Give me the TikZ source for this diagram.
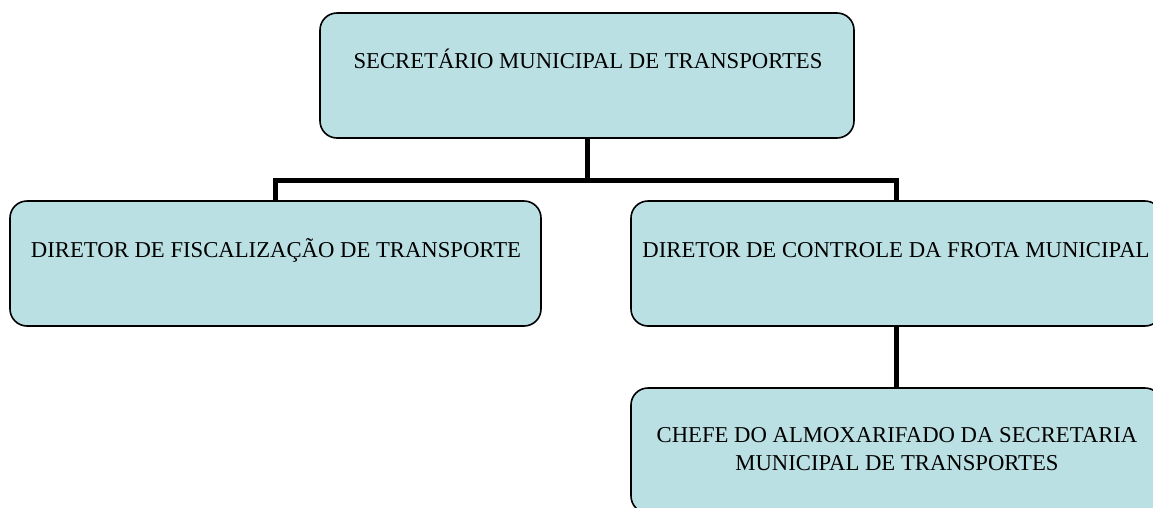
\documentclass[tikz,border=0pt]{standalone}
\usepackage{fontspec}
\setmainfont{Liberation Serif}
\definecolor{boxfill}{RGB}{187,224,227}
\tikzset{
  orgbox/.style={draw=black, line width=1.6pt, fill=boxfill, rounded corners=17pt,
    minimum width=#1, minimum height=125pt, inner sep=0pt, outer sep=0pt},
  orgbox/.default=531pt,
  lbl/.style={anchor=base, font=\fontsize{22.7}{28}\selectfont, inner sep=0pt, align=center},
  conn/.style={draw=black, line width=5pt, line join=miter}
}
\begin{document}
\begin{tikzpicture}[x=1pt, y=-1pt]
\useasboundingbox (0,0) rectangle (1153,507);
% boxes
\node[orgbox=534pt] (top) at (587,75.5) {};
\node[orgbox] (left) at (275.5,263.5) {};
\node[orgbox] (right) at (896.5,263.5) {};
\node[orgbox] (chefe) at (896.5,450.5) {};
% labels
\node[lbl] (ttop) at (588,68) {SECRETÁRIO MUNICIPAL DE TRANSPORTES};
\node[lbl] (tleft) at (276,257) {DIRETOR DE FISCALIZAÇÃO DE TRANSPORTE};
\node[lbl] (tright) at (896,257) {DIRETOR DE CONTROLE DA FROTA MUNICIPAL};
\node[lbl] (tchefe) at (897,470) {CHEFE DO ALMOXARIFADO DA SECRETARIA\\MUNICIPAL DE TRANSPORTES};
% connectors
\coordinate (bar) at (587,180);
\draw[conn] (top.south) -- (bar);
\draw[conn] (left.north) |- (bar) -| (right.north);
\draw[conn] (right.south) -- (chefe.north);
\end{tikzpicture}
\end{document}
